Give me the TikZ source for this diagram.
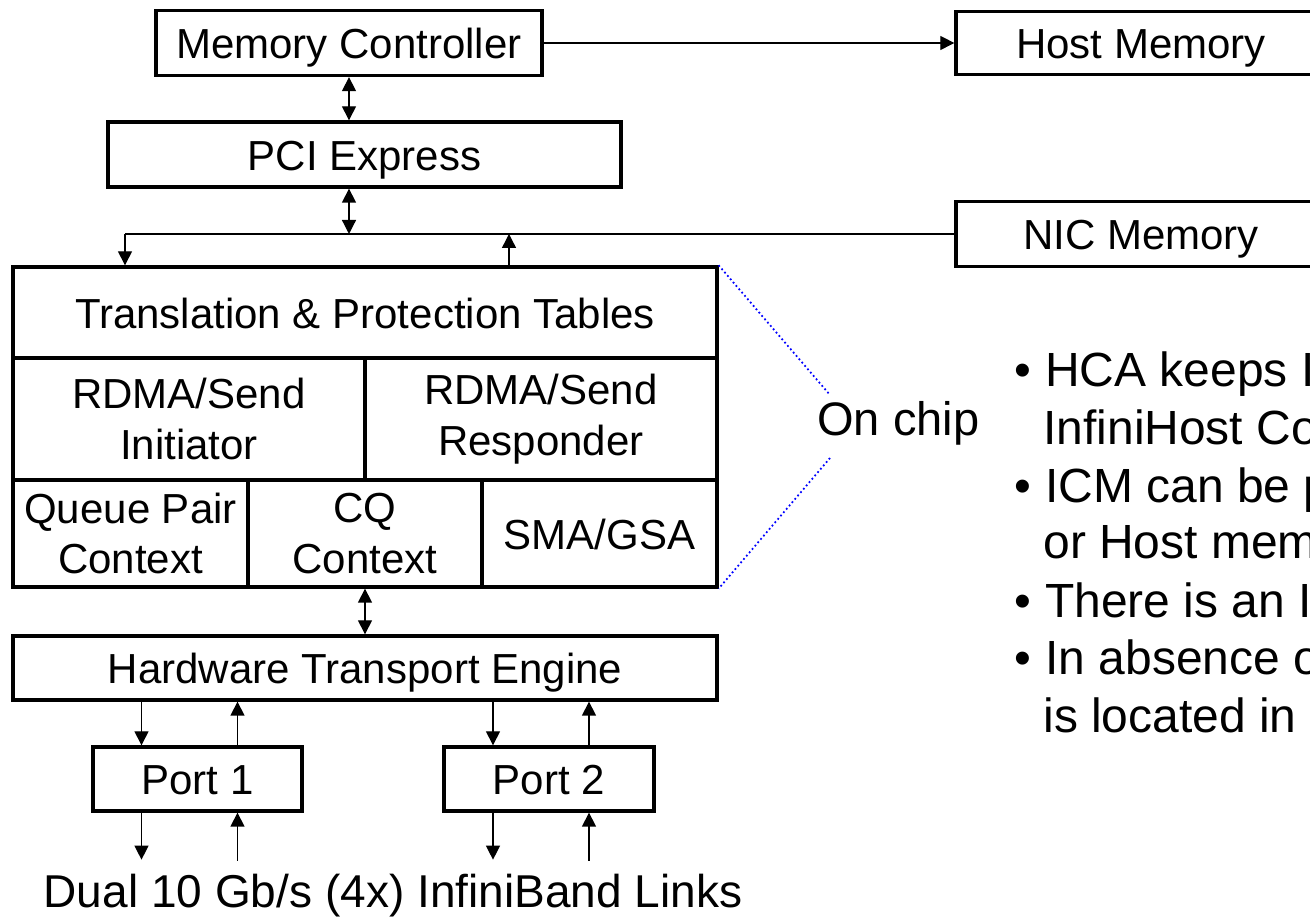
\documentclass[tikz,border=0pt]{standalone}
\usepackage{fontspec}
\setmainfont{Liberation Sans}
\usetikzlibrary{arrows.meta}

\newcommand{\boxfont}{\fontsize{23.9}{28.7}\selectfont}
\newcommand{\notefont}{\fontsize{27.3}{32.8}\selectfont}
\newcommand{\chipfont}{\fontsize{26.75}{32}\selectfont}
\newcommand{\linkfont}{\fontsize{26.2}{31.4}\selectfont}

\begin{document}
\begin{tikzpicture}[
    block/.style={rectangle, draw, line width=1.9pt, inner sep=0pt, font=\boxfont},
    oneline/.style={text height=18.2pt, text depth=0pt},
    twoline/.style={align=center},
    link/.style={-{Triangle[length=0.28cm, width=0.28cm]}, line width=0.75pt},
    duplex/.style={{Triangle[length=0.28cm, width=0.28cm]}-{Triangle[length=0.28cm, width=0.28cm]}, line width=0.75pt},
    bus/.style={line width=0.75pt},
    zoomline/.style={draw=blue, line width=1pt, dash pattern=on 1pt off 1.5pt},
    note/.style={anchor=base west, inner sep=0pt, font=\notefont}
]

% Page frame
\clip (0,0) rectangle (26.2,18.34);

% Host side
\node[block, oneline, minimum width=7.72cm, minimum height=1.30cm] (mc) at (6.98, 17.48) {Memory Controller};
\node[block, oneline, minimum width=7.40cm, minimum height=1.26cm] (host) at (22.82, 17.48) {Host Memory};
\node[block, oneline, minimum width=10.26cm, minimum height=1.30cm] (pci) at (7.29, 15.25) {PCI Express};
\node[block, oneline, minimum width=7.40cm, minimum height=1.30cm] (nic) at (22.82, 13.66) {NIC Memory};

\draw[link] (mc.east) -- (mc.east -| host.west);
\draw[duplex] (mc.south) -- (mc.south |- pci.north);

% Chip
\node[block, oneline, minimum width=14.08cm, minimum height=1.82cm] (tpt) at (7.30, 12.09) {Translation \& Protection Tables};
\node[block, twoline, minimum width=7.04cm, minimum height=2.44cm] (rdmai) at (3.78, 9.96) {RDMA/Send\\Initiator};
\node[block, twoline, minimum width=7.04cm, minimum height=2.44cm] (rdmar) at (10.82, 9.96) {RDMA/Send\\Responder};
\node[block, twoline, minimum width=4.70cm, minimum height=2.14cm] (qp) at (2.61, 7.67) {Queue Pair\\Context};
\node[block, twoline, minimum width=4.68cm, minimum height=2.14cm] (cq) at (7.30, 7.67) {CQ\\Context};
\node[block, oneline, minimum width=4.70cm, minimum height=2.14cm] (sma) at (11.99, 7.67) {SMA/GSA};

% Bus to the chip
\coordinate (busl) at (2.50, 13.66);
\coordinate (busr) at (10.18, 13.66);
\draw[duplex] (mc.south |- pci.south) -- (mc.south |- busl);
\draw[bus] (nic.west) -- (busl);
\draw[link] (busl) -- (busl |- tpt.north);
\draw[link] (busr |- tpt.north) -- (busr);

% On chip marker
\coordinate (oc1) at (16.60, 10.44);
\coordinate (oc2) at (16.60, 9.18);
\node[anchor=base west, inner sep=0pt, font=\chipfont] (onchip) at (16.34, 9.62) {On chip};
\draw[zoomline] (tpt.north east) -- (oc1);
\draw[zoomline] (oc2) -- (sma.south east);

% Transport and ports
\node[block, oneline, minimum width=14.08cm, minimum height=1.28cm] (hte) at (7.30, 4.98) {Hardware Transport Engine};
\draw[duplex] (cq.south) -- (cq.south |- hte.north);

\node[block, oneline, minimum width=4.18cm, minimum height=1.28cm] (port1) at (3.95, 2.76) {Port 1};
\node[block, oneline, minimum width=4.20cm, minimum height=1.28cm] (port2) at (10.98, 2.76) {Port 2};

\draw[link] ([xshift=-1.12cm]port1.north |- hte.south) -- ([xshift=-1.12cm]port1.north);
\draw[link] ([xshift=0.80cm]port1.north) -- ([xshift=0.80cm]port1.north |- hte.south);
\draw[link] ([xshift=-1.12cm]port2.north |- hte.south) -- ([xshift=-1.12cm]port2.north);
\draw[link] ([xshift=0.80cm]port2.north) -- ([xshift=0.80cm]port2.north |- hte.south);

\draw[link] ([xshift=-1.12cm]port1.south) -- ([xshift=-1.12cm, yshift=-0.94cm]port1.south);
\draw[link] ([xshift=0.80cm, yshift=-0.96cm]port1.south) -- ([xshift=0.80cm]port1.south);
\draw[link] ([xshift=-1.12cm]port2.south) -- ([xshift=-1.12cm, yshift=-0.94cm]port2.south);
\draw[link] ([xshift=0.80cm, yshift=-0.96cm]port2.south) -- ([xshift=0.80cm]port2.south);

\node[anchor=base, inner sep=0pt, font=\linkfont] (links) at (7.86, 0.18) {Dual 10 Gb/s (4x) InfiniBand Links};

% Notes
\node[note] (b1) at (20.29, 10.60) {\makebox[0.61cm][l]{•}HCA keeps I};
\node[note] (b1a) at (20.86, 9.44) {InfiniHost Co};
\node[note] (b2) at (20.29, 8.28) {\makebox[0.61cm][l]{•}ICM can be p};
\node[note] (b2a) at (20.86, 7.16) {or Host mem};
\node[note] (b3) at (20.29, 5.98) {\makebox[0.61cm][l]{•}There is an I};
\node[note] (b4) at (20.29, 4.84) {\makebox[0.61cm][l]{•}In absence o};
\node[note] (b4a) at (20.86, 3.68) {is located in};

\end{tikzpicture}
\end{document}
